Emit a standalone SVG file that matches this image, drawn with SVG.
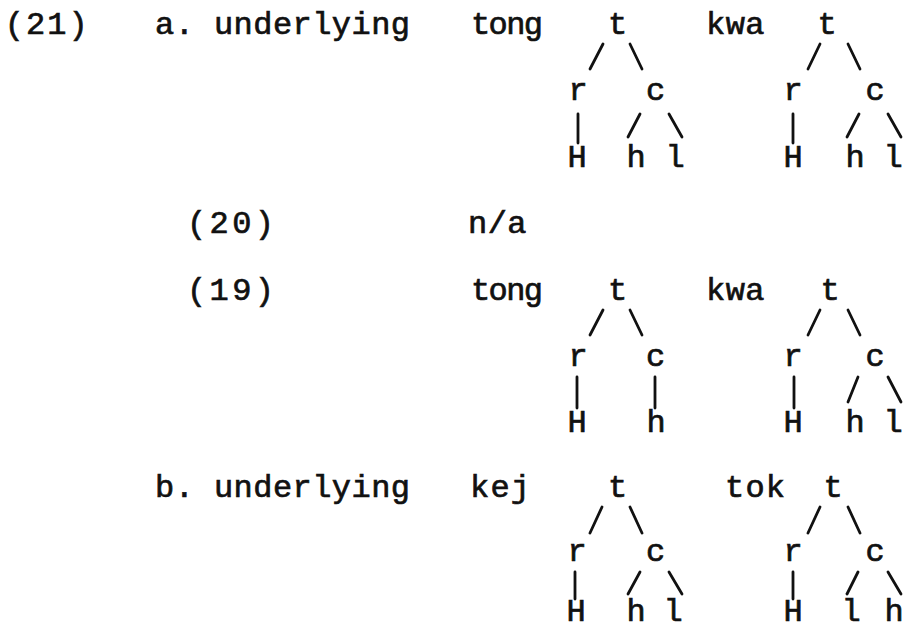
<svg xmlns="http://www.w3.org/2000/svg" width="906" height="631" viewBox="0 0 906 631">
<style>
  text { font-family: "Liberation Mono", "DejaVu Sans Mono", monospace; font-size: 32px; fill: #111; stroke: #111; stroke-width: 0.7px; }
  .n { text-anchor: middle; }
  .e { stroke: #111; stroke-width: 2.8; stroke-linecap: round; fill: none; }
</style>
<rect width="906" height="631" fill="#fff"/>

<!-- labels -->
<g id="label-21"><text x="4.7" y="34" textLength="83" lengthAdjust="spacing">(21)</text></g>
<g id="label-a"><text x="155" y="34" textLength="255" lengthAdjust="spacing">a. underlying</text></g>
<g id="label-20"><text x="187" y="233" textLength="87" lengthAdjust="spacing">(20)</text></g>
<g id="label-na"><text x="468" y="233" textLength="58.5" lengthAdjust="spacing">n/a</text></g>
<g id="label-19"><text x="187" y="300" textLength="87" lengthAdjust="spacing">(19)</text></g>
<g id="label-b"><text x="155" y="497" textLength="255" lengthAdjust="spacing">b. underlying</text></g>

<!-- words -->
<g id="word-tong-1"><text x="471" y="34" textLength="72" lengthAdjust="spacing">tong</text></g>
<g id="word-kwa-1"><text x="706" y="34" textLength="58.5" lengthAdjust="spacing">kwa</text></g>
<g id="word-tong-2"><text x="471" y="300" textLength="72" lengthAdjust="spacing">tong</text></g>
<g id="word-kwa-2"><text x="706" y="300" textLength="58.5" lengthAdjust="spacing">kwa</text></g>
<g id="word-kej"><text x="470" y="497" textLength="60" lengthAdjust="spacing">kej</text></g>
<g id="word-tok"><text x="725" y="497" textLength="60" lengthAdjust="spacing">tok</text></g>

<!-- tree nodes, row a (underlying) -->
<g id="a1-t"><text class="n" x="617.5" y="34">t</text></g>
<g id="a1-r"><text class="n" x="578" y="100">r</text></g>
<g id="a1-c"><text class="n" x="655.5" y="100">c</text></g>
<g id="a1-H"><text class="n" x="577" y="167">H</text></g>
<g id="a1-h"><text class="n" x="636" y="167">h</text></g>
<g id="a1-l"><text class="n" x="675" y="167">l</text></g>

<g id="a2-t"><text class="n" x="827" y="34">t</text></g>
<g id="a2-r"><text class="n" x="793" y="100">r</text></g>
<g id="a2-c"><text class="n" x="875" y="100">c</text></g>
<g id="a2-H"><text class="n" x="793" y="167">H</text></g>
<g id="a2-h"><text class="n" x="855" y="167">h</text></g>
<g id="a2-l"><text class="n" x="893" y="167">l</text></g>

<!-- row (19) -->
<g id="s1-t"><text class="n" x="617.5" y="300">t</text></g>
<g id="s1-r"><text class="n" x="578" y="366">r</text></g>
<g id="s1-c"><text class="n" x="655.5" y="366">c</text></g>
<g id="s1-H"><text class="n" x="577" y="432">H</text></g>
<g id="s1-h"><text class="n" x="656" y="432">h</text></g>

<g id="s2-t"><text class="n" x="830" y="300">t</text></g>
<g id="s2-r"><text class="n" x="793" y="366">r</text></g>
<g id="s2-c"><text class="n" x="875" y="366">c</text></g>
<g id="s2-H"><text class="n" x="793" y="432">H</text></g>
<g id="s2-h"><text class="n" x="855" y="432">h</text></g>
<g id="s2-l"><text class="n" x="893" y="432">l</text></g>

<!-- row b -->
<g id="b1-t"><text class="n" x="617.5" y="497">t</text></g>
<g id="b1-r"><text class="n" x="577" y="561">r</text></g>
<g id="b1-c"><text class="n" x="655.5" y="561">c</text></g>
<g id="b1-H"><text class="n" x="576" y="621">H</text></g>
<g id="b1-h"><text class="n" x="636" y="621">h</text></g>
<g id="b1-l"><text class="n" x="673" y="621">l</text></g>

<g id="b2-t"><text class="n" x="833" y="497">t</text></g>
<g id="b2-r"><text class="n" x="793" y="561">r</text></g>
<g id="b2-c"><text class="n" x="875" y="561">c</text></g>
<g id="b2-H"><text class="n" x="793" y="621">H</text></g>
<g id="b2-l"><text class="n" x="851" y="621">l</text></g>
<g id="b2-h"><text class="n" x="894" y="621">h</text></g>

<!-- connectors -->
<g id="connectors">
  <!-- row a, tree 1 -->
  <line class="e" x1="603" y1="44" x2="590" y2="69"/>
  <line class="e" x1="630" y1="44" x2="642" y2="69"/>
  <line class="e" x1="578" y1="114" x2="578" y2="143"/>
  <line class="e" x1="640" y1="114" x2="628" y2="137"/>
  <line class="e" x1="669" y1="114" x2="682" y2="137"/>
  <!-- row a, tree 2 -->
  <line class="e" x1="820" y1="44" x2="808" y2="69"/>
  <line class="e" x1="848" y1="44" x2="860" y2="69"/>
  <line class="e" x1="793" y1="114" x2="793" y2="143"/>
  <line class="e" x1="859" y1="114" x2="847" y2="137"/>
  <line class="e" x1="888" y1="114" x2="901" y2="137"/>
  <!-- row 19, tree 1 -->
  <line class="e" x1="603" y1="310" x2="590" y2="335"/>
  <line class="e" x1="630" y1="310" x2="642" y2="335"/>
  <line class="e" x1="577" y1="377" x2="577" y2="408"/>
  <line class="e" x1="655" y1="377" x2="655" y2="408"/>
  <!-- row 19, tree 2 -->
  <line class="e" x1="820" y1="310" x2="808" y2="335"/>
  <line class="e" x1="848" y1="310" x2="860" y2="335"/>
  <line class="e" x1="794" y1="377" x2="794" y2="408"/>
  <line class="e" x1="858" y1="377" x2="848" y2="402"/>
  <line class="e" x1="888" y1="377" x2="901" y2="402"/>
  <!-- row b, tree 1 -->
  <line class="e" x1="602" y1="507" x2="590" y2="533"/>
  <line class="e" x1="630" y1="507" x2="642" y2="533"/>
  <line class="e" x1="575" y1="572" x2="575" y2="599"/>
  <line class="e" x1="640" y1="572" x2="628" y2="594"/>
  <line class="e" x1="669" y1="572" x2="682" y2="594"/>
  <!-- row b, tree 2 -->
  <line class="e" x1="820" y1="507" x2="808" y2="533"/>
  <line class="e" x1="848" y1="507" x2="860" y2="533"/>
  <line class="e" x1="793" y1="572" x2="793" y2="599"/>
  <line class="e" x1="858" y1="572" x2="847" y2="594"/>
  <line class="e" x1="888" y1="572" x2="901" y2="594"/>
</g>
</svg>
